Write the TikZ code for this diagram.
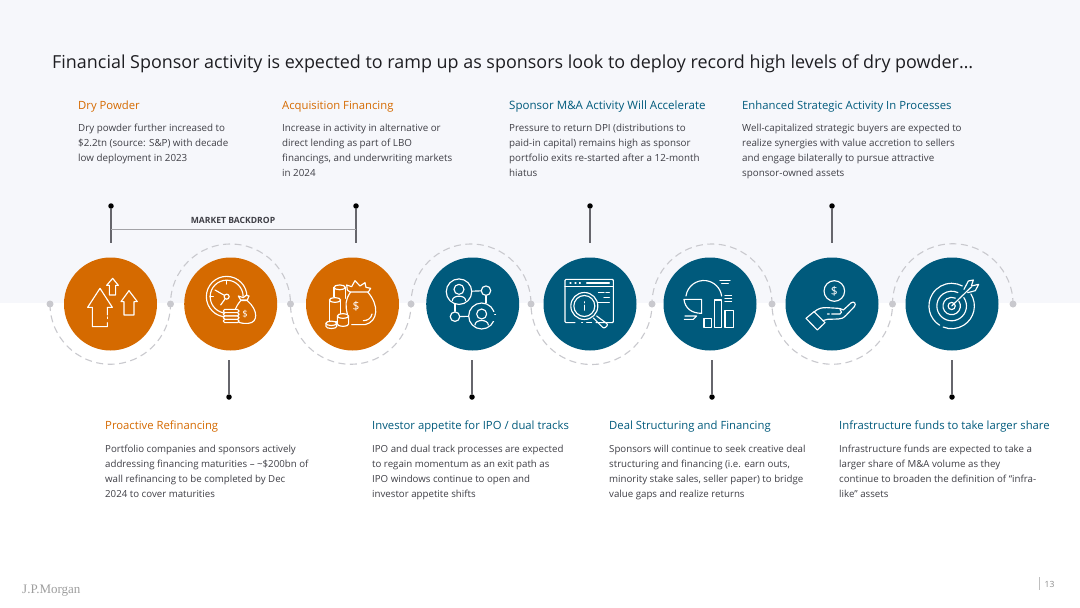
\documentclass[tikz,border=0pt]{standalone}
\usepackage{fontspec}
\setmainfont{Open Sans}
\newfontfamily\logofont{Liberation Serif}
\definecolor{org}{HTML}{D56A00}
\definecolor{teal}{HTML}{005A7C}
\definecolor{bgtop}{HTML}{F6F7FB}
\definecolor{txt}{HTML}{3F3F46}
\definecolor{ttl}{HTML}{1E1E22}
\definecolor{dashc}{HTML}{C9C9CE}
\definecolor{stem}{HTML}{66666C}
\tikzset{
 disc/.style={circle,minimum size=93pt,inner sep=0pt,fill=#1},
 head/.style={anchor=base west,font=\fontsize{11.3}{13}\selectfont,inner sep=0pt},
 body/.style={anchor=north west,align=left,text=txt,inner sep=0pt,font=\fontsize{9.8}{15.1}\selectfont},
 bodyl/.style={anchor=north west,align=left,text=txt,inner sep=0pt,font=\fontsize{9.7}{15.0}\selectfont},
 blackdot/.style={circle,fill=black,minimum size=5.5pt,inner sep=0pt},
 stemline/.style={draw=stem,line width=1.1pt},
 greydot/.style={circle,fill=dashc,minimum size=7pt,inner sep=0pt},
 wavy/.style={draw=dashc,line width=1.1pt,dash pattern=on 7pt off 4.5pt},
 ico/.style={draw=white,line width=1.15pt,line cap=round,line join=round},
 inode/.style={circle,draw=white,line width=1.15pt,inner sep=0pt},
 zoomA/.style={shift={(30pt,-190pt)},x=0.33333pt,y=-0.33333pt},
 zoomB/.style={shift={(400pt,-230pt)},x=0.33333pt,y=-0.33333pt},
 zoomC/.style={shift={(740pt,-230pt)},x=0.33333pt,y=-0.33333pt},
}
\begin{document}
\begin{tikzpicture}[x=1pt,y=-1pt]
\useasboundingbox (0,0) rectangle (1080,608);
\fill[white] (0,0) rectangle (1080,608);
\fill[bgtop] (0,0) rectangle (1080,303);
% title
\node[anchor=base west,inner sep=0pt,text=ttl,font=\fontsize{17.93}{20}\selectfont] (title) at (52,68) {Financial Sponsor activity is expected to ramp up as sponsors look to deploy record high levels of dry powder…};
% wave
\coordinate (w1) at (50,304); \coordinate (w2) at (170.5,304); \coordinate (w3) at (290.5,304);
\coordinate (w4) at (411,304); \coordinate (w5) at (531,304); \coordinate (w6) at (652,304);
\coordinate (w7) at (772,304); \coordinate (w8) at (892.5,304); \coordinate (w9) at (1013,304);
\path[wavy] (w1) arc[start angle=180,end angle=360,radius=60.25pt]
 arc[start angle=180,end angle=0,radius=60pt]
 arc[start angle=180,end angle=360,radius=60.25pt]
 arc[start angle=180,end angle=0,radius=60pt]
 arc[start angle=180,end angle=360,radius=60.5pt]
 arc[start angle=180,end angle=0,radius=60pt]
 arc[start angle=180,end angle=360,radius=60.25pt]
 arc[start angle=180,end angle=0,radius=60.25pt];
\foreach \n in {1,...,9} \node[greydot] (gd\n) at (w\n) {};
% discs
\node[disc=org] (c1) at (110.5,304) {};
\node[disc=org] (c2) at (230.7,304) {};
\node[disc=org] (c3) at (352.5,304) {};
\node[disc=teal] (c4) at (472.7,304) {};
\node[disc=teal] (c5) at (590,304) {};
\node[disc=teal] (c6) at (710,304) {};
\node[disc=teal] (c7) at (832,304) {};
\node[disc=teal] (c8) at (952,304) {};
% stems
\foreach \x/\n in {111/a,356/b,590/c,832/d}{
 \node[blackdot] (td\n) at (\x,206) {};
 \coordinate (ts\n) at (\x,243);
 \draw[stemline] (td\n) -- (ts\n);
}
\foreach \x/\n in {229/a,472/b,712/c,952/d}{
 \node[blackdot] (bd\n) at (\x,397) {};
 \coordinate (bs\n) at (\x,360);
 \draw[stemline] (bd\n) -- (bs\n);
}
\coordinate (bl) at (111,229); \coordinate (br) at (356,229);
\draw[draw=stem!60,line width=1pt] (bl) -- (br);
\node[text=txt,inner sep=0pt,font=\bfseries\fontsize{8.6}{10}\selectfont] (mb) at (233,220.5) {MARKET BACKDROP};
% headings and bodies
\node[head,text=org] (h1) at (78,109.5) {Dry Powder};
\node[body] (b1) at (78,123.5) {Dry powder further increased to\\\$2.2tn (source: S\&P) with decade\\low deployment in 2023};
\node[head,text=org] (h2) at (282,109.5) {Acquisition Financing};
\node[body] (b2) at (282,123.5) {Increase in activity in alternative or\\direct lending as part of LBO\\financings, and underwriting markets\\in 2024};
\node[head,text=teal,font=\fontsize{11.55}{13}\selectfont] (h3) at (509,109.5) {Sponsor M\&A Activity Will Accelerate};
\node[body] (b3) at (509,123.5) {Pressure to return DPI (distributions to\\paid-in capital) remains high as sponsor\\portfolio exits re-started after a 12-month\\hiatus};
\node[head,text=teal] (h4) at (742,109.5) {Enhanced Strategic Activity In Processes};
\node[body] (b4) at (742,123.5) {Well-capitalized strategic buyers are expected to\\realize synergies with value accretion to sellers\\and engage bilaterally to pursue attractive\\sponsor-owned assets};
\node[head,text=org] (h5) at (105,429.5) {Proactive Refinancing};
\node[bodyl] (b5) at (105,444.5) {Portfolio companies and sponsors actively\\addressing financing maturities – \textasciitilde\$200bn of\\wall refinancing to be completed by Dec\\2024 to cover maturities};
\node[head,text=teal] (h6) at (372,429.5) {Investor appetite for IPO / dual tracks};
\node[bodyl] (b6) at (372,444.5) {IPO and dual track processes are expected\\to regain momentum as an exit path as\\IPO windows continue to open and\\investor appetite shifts};
\node[head,text=teal] (h7) at (609,429.5) {Deal Structuring and Financing};
\node[bodyl] (b7) at (609,444.5) {Sponsors will continue to seek creative deal\\structuring and financing (i.e. earn outs,\\minority stake sales, seller paper) to bridge\\value gaps and realize returns};
\node[head,text=teal] (h8) at (839,429.5) {Infrastructure funds to take larger share};
\node[bodyl] (b8) at (839,444.5) {Infrastructure funds are expected to take a\\larger share of M\&A volume as they\\continue to broaden the definition of “infra-\\like” assets};
% footer
\node[anchor=base west,inner sep=0pt,text=black!38,font=\logofont\fontsize{13}{14}\selectfont] (logo) at (22,593) {J.P.Morgan};
\node[anchor=base west,inner sep=0pt,text=black!45,font=\fontsize{8.5}{10}\selectfont] (pg) at (1044.5,587) {13};
\coordinate (pt) at (1039.5,577); \coordinate (pb) at (1039.5,590);
\draw[black!25,line width=0.7pt] (pt) -- (pb);
% ICON 1
\begin{scope}[zoomA]
\draw[ico] (232,375) -- (232,352) -- (247,352) -- (210,295) -- (173,352) -- (187,352) -- (187,410) -- (232,410) -- (232,398);
\draw[ico] (232,381) -- (232,386);
\draw[ico] (238,315) -- (238,286) -- (230,286) -- (248,265) -- (265,286) -- (257,286) -- (257,315) -- cycle;
\draw[ico] (282,375) -- (282,335) -- (273,335) -- (297,302) -- (322,335) -- (312,335) -- (312,375) -- cycle;
% ICON 2
\node[inode,minimum size=40.6pt] (clko) at (590,320) {};
\node[inode,minimum size=33pt] (clki) at (590,320) {};
\node[inode,minimum size=5pt] (clk) at (590,320) {};
\draw[ico] (clk) -- (555,300);
\draw[ico] (clk) -- (572,345);
\draw[ico] (590,272) -- (590,282) (540,320) -- (550,320);
\draw[ico,fill=org] (632,330) -- (625,318) -- (640,323) -- (648,316) -- (657,318) -- (652,330) -- cycle;
\draw[ico,fill=org] (632,332) .. controls (600,370) and (610,398) .. (640,400) -- (655,400) .. controls (685,398) and (685,360) .. (652,332) -- cycle;
\node[text=white,inner sep=0pt,font=\fontsize{9.5}{10}\selectfont] (d2) at (645,372) {\$};
\foreach \yy in {358,368,378,388}
 \draw[ico,fill=org,rounded corners=1.5pt] (580,\yy) rectangle (627,\yy+10);
% ICON 3
\draw[ico] (952,300) -- (950,285) -- (965,290) -- (975,272) -- (990,288) -- (1005,278) -- (1008,292) -- (1022,295) -- (1015,306) -- (960,306) -- cycle;
\draw[ico] (962,306) .. controls (945,330) and (946,345) .. (952,372);
\draw[ico] (1013,306) .. controls (1048,345) and (1045,395) .. (1005,404) -- (965,404);
\draw[ico] (1000,392) .. controls (1012,392) and (1024,385) .. (1026,372);
\node[text=white,inner sep=0pt,font=\fontsize{12}{12}\selectfont] (d3) at (978,350) {\$};
\draw[ico] (912,320) -- (912,292) (946,292) -- (946,325);
\draw[ico] (929,292) ellipse[x radius=5.67pt,y radius=2.4pt];
\draw[ico,fill=org] (898,330) -- (898,396) -- (932,396) -- (932,330) -- cycle;
\fill[org] (896,322) rectangle (934,330);
\draw[ico,fill=org] (915,330) ellipse[x radius=5.67pt,y radius=2.4pt];
\draw[ico,fill=org] (922,378) -- (922,402) arc[start angle=180,end angle=360,x radius=5.67pt,y radius=2.4pt] -- (956,378) -- cycle;
\draw[ico,fill=org] (939,378) ellipse[x radius=5.67pt,y radius=2.4pt];
\draw[ico,fill=org] (888,400) -- (888,409) arc[start angle=180,end angle=360,x radius=5.4pt,y radius=2.2pt] -- (920,400) -- cycle;
\draw[ico,fill=org] (904,400) ellipse[x radius=5.4pt,y radius=2.2pt];
\end{scope}
% ICON 4
\begin{scope}[zoomB]
\node[inode,minimum size=25.5pt] (n1) at (177,185) {};
\node[inode,minimum size=9.5pt] (n2) at (258,182) {};
\node[inode,minimum size=9.5pt] (n3) at (165,260) {};
\node[inode,minimum size=26pt] (n4) at (245,258) {};
\draw[ico] (n1) -- (n2); \draw[ico] (n2) -- (258,218);
\draw[ico] (165,222) -- (n3); \draw[ico] (n3) -- (n4);
\draw[ico] (177,178) circle[radius=5pt];
\draw[ico] (157,212) .. controls (157,194) and (197,194) .. (197,212);
\draw[ico] (245,252) circle[radius=5pt];
\draw[ico] (225,285) .. controls (225,267) and (265,267) .. (265,285);
\fill[teal] (280,246) rectangle (292,272);
\draw[ico] (284,254) -- (287,254);
% ICON 5
\draw[ico,rounded corners=1pt] (588,278) -- (640,278) -- (640,148) -- (495,148) -- (495,278) -- (525,278);
\draw[ico] (495,170) -- (640,170);
\draw[ico] (510,159) -- (513,159) (525,159) -- (528,159) (538,159) -- (541,159) (560,159) -- (628,159);
\draw[ico] (595,188) -- (612,188) (618,188) -- (628,188) (612,203) -- (628,203) (595,218) -- (628,218);
\draw[ico] (545,278) -- (548,278) (560,278) -- (575,278);
\draw[ico] (553,228) circle[radius=13.5pt];
\draw[ico] (553,228) circle[radius=10.5pt];
\draw[ico,rounded corners=2pt] (590,258) -- (625,284) -- (612,296) -- (580,264);
\draw[ico,line width=1.6pt] (553,216) -- (553,218);
\draw[ico,line width=1.6pt] (553,226) -- (553,240);
% ICON 6
\draw[ico] (858,198) arc[start angle=172,end angle=8,radius=18pt];
\draw[ico] (852,208) -- (905,208) -- (905,250) .. controls (875,250) and (855,235) .. (852,208) -- cycle;
\draw[ico] (912,265) rectangle (935,293);
\draw[ico] (944,210) rectangle (965,293);
\draw[ico] (975,242) rectangle (1000,293);
\draw[ico] (960,152) -- (990,152) (965,160) -- (985,160);
\draw[ico] (975,197) -- (995,197) (975,206) -- (995,206) (975,215) -- (995,215);
\draw[ico] (855,258) -- (890,258) (853,268) -- (880,268) -- (890,258);
\end{scope}
\begin{scope}[zoomC]
% ICON 7
\draw[ico] (283,183) circle[radius=10.3pt];
\node[text=white,inner sep=0pt,font=\fontsize{12}{12}\selectfont] (d7) at (283,184) {\$};
\draw[ico] (198,265) -- (222,245) -- (255,278) -- (232,300) -- cycle;
\draw[ico] (222,246) .. controls (235,235) and (245,232) .. (262,233) -- (295,235) .. controls (305,236) and (308,240) .. (310,240) -- (334,218) .. controls (342,212) and (350,222) .. (343,230) -- (318,256) .. controls (310,264) and (305,267) .. (295,267) -- (262,268) -- (248,272);
\draw[ico] (262,252) -- (268,252) (275,252) -- (300,252) .. controls (306,252) and (306,242) .. (300,238);
% ICON 8
\coordinate (tg) at (635,228);
\draw[ico] (tg) circle[radius=3.6pt];
\draw[ico] (tg) ++(35:8.7pt) arc[start angle=35,end angle=-295,radius=8.7pt];
\draw[ico] (tg) ++(35:14.8pt) arc[start angle=35,end angle=-295,radius=14.8pt];
\draw[ico] (tg) ++(32:22.7pt) arc[start angle=32,end angle=-112,radius=22.7pt];
\draw[ico] (tg) ++(-122:22.7pt) arc[start angle=-122,end angle=-270,radius=22.7pt];
\draw[ico] (tg) ++(62:22.7pt) arc[start angle=62,end angle=90,radius=22.7pt];
\draw[ico] (tg) -- (695,170);
\draw[ico] (672,178) -- (685,153) -- (700,150) -- (694,168) -- (716,163) -- (706,182) -- (683,188);
\end{scope}
\end{tikzpicture}
\end{document}
